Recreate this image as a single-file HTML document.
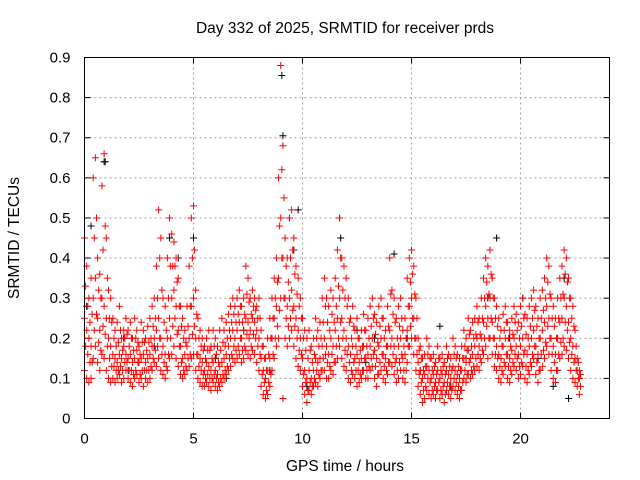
<!DOCTYPE html>
<html><head><meta charset="utf-8"><style>
body{margin:0;background:#fff;width:640px;height:480px;overflow:hidden}
svg{display:block;font-family:"Liberation Sans",sans-serif}
</style></head><body>
<svg id="chart" width="640" height="480" xmlns="http://www.w3.org/2000/svg">
<text x="345" y="33" font-size="15.5" text-anchor="middle">Day 332 of 2025, SRMTID for receiver prds</text>
<text x="345" y="471" font-size="15.5" text-anchor="middle">GPS time / hours</text>
<text transform="translate(19,238) rotate(-90)" font-size="15.5" text-anchor="middle">SRMTID / TECUs</text>
<g id="grid"></g>
<g id="ticks"></g>
<g id="marks"></g>
<rect x="84.5" y="57.5" width="525" height="361" fill="none" stroke="#000" stroke-width="1"/>
</svg>
<script>
const xTicks=[0,5,10,15,20];
const yTicks=[0,0.1,0.2,0.3,0.4,0.5,0.6,0.7,0.8,0.9];
const yTickLabels=["0","0.1","0.2","0.3","0.4","0.5","0.6","0.7","0.8","0.9"];
const sampleStartHour=0, sampleStepHour=0.1, offsetStartHour=0.05;
const seriesA=[0.45,0.38,0.30,0.35,0.60,0.65,0.40,0.36,0.58,0.66,
0.45,0.32,0.30,0.25,0.22,0.24,0.28,0.20,0.22,0.25,
0.22,0.24,0.20,0.25,0.22,0.18,0.24,0.22,0.20,0.23,
0.25,0.28,0.30,0.38,0.52,0.45,0.30,0.28,0.40,0.50,
0.46,0.44,0.40,0.35,0.28,0.25,0.22,0.28,0.38,0.50,
0.53,0.32,0.25,0.22,0.20,0.18,0.20,0.22,0.18,0.22,
0.20,0.18,0.22,0.25,0.22,0.24,0.26,0.28,0.30,0.28,
0.30,0.32,0.28,0.30,0.38,0.35,0.30,0.32,0.30,0.28,
0.30,0.22,0.18,0.15,0.20,0.25,0.30,0.35,0.40,0.60,
0.88,0.68,0.45,0.40,0.50,0.52,0.45,0.38,0.35,0.30,
0.25,0.22,0.20,0.22,0.18,0.20,0.25,0.22,0.24,0.30,
0.35,0.30,0.28,0.32,0.30,0.35,0.42,0.50,0.40,0.38,
0.35,0.30,0.25,0.28,0.22,0.25,0.20,0.22,0.26,0.22,
0.25,0.28,0.30,0.26,0.24,0.28,0.30,0.25,0.22,0.28,
0.40,0.32,0.30,0.25,0.28,0.30,0.22,0.25,0.35,0.40,
0.42,0.38,0.30,0.20,0.18,0.15,0.16,0.20,0.18,0.15,
0.16,0.14,0.18,0.15,0.16,0.14,0.18,0.16,0.15,0.20,
0.18,0.16,0.15,0.18,0.22,0.20,0.25,0.22,0.24,0.25,
0.28,0.25,0.30,0.35,0.40,0.38,0.42,0.35,0.30,0.28,
0.25,0.22,0.26,0.28,0.24,0.22,0.25,0.28,0.26,0.24,
0.28,0.30,0.26,0.25,0.28,0.30,0.32,0.28,0.25,0.30,
0.32,0.35,0.40,0.38,0.30,0.28,0.25,0.30,0.35,0.38,
0.42,0.40,0.35,0.30,0.28,0.22,0.15,0.12];
const seriesB=[0.25,0.22,0.20,0.18,0.30,0.35,0.25,0.22,0.30,0.28,
0.25,0.20,0.18,0.16,0.15,0.14,0.16,0.15,0.18,0.16,
0.15,0.16,0.14,0.15,0.17,0.14,0.15,0.16,0.14,0.15,
0.16,0.18,0.20,0.22,0.25,0.20,0.18,0.16,0.20,0.25,
0.30,0.32,0.28,0.22,0.18,0.15,0.16,0.18,0.20,0.28,
0.30,0.20,0.16,0.15,0.14,0.12,0.14,0.13,0.12,0.14,
0.12,0.11,0.13,0.14,0.15,0.16,0.18,0.20,0.22,0.20,
0.22,0.24,0.20,0.22,0.25,0.24,0.22,0.25,0.24,0.22,
0.20,0.15,0.12,0.10,0.12,0.15,0.20,0.25,0.28,0.35,
0.50,0.40,0.30,0.28,0.30,0.32,0.28,0.25,0.22,0.20,
0.15,0.12,0.10,0.12,0.10,0.12,0.15,0.14,0.15,0.18,
0.20,0.18,0.16,0.20,0.18,0.22,0.25,0.30,0.25,0.22,
0.20,0.18,0.16,0.18,0.15,0.16,0.14,0.15,0.18,0.15,
0.16,0.18,0.20,0.17,0.15,0.18,0.20,0.16,0.15,0.18,
0.22,0.20,0.18,0.15,0.18,0.20,0.15,0.16,0.22,0.28,
0.30,0.25,0.20,0.14,0.12,0.10,0.11,0.13,0.12,0.10,
0.11,0.09,0.12,0.10,0.11,0.09,0.12,0.11,0.10,0.13,
0.12,0.11,0.10,0.12,0.15,0.14,0.17,0.15,0.16,0.18,
0.20,0.18,0.20,0.24,0.28,0.25,0.30,0.24,0.20,0.18,
0.16,0.15,0.18,0.20,0.16,0.15,0.17,0.20,0.18,0.16,
0.18,0.20,0.17,0.16,0.18,0.20,0.22,0.18,0.16,0.20,
0.22,0.24,0.28,0.25,0.20,0.18,0.16,0.20,0.24,0.25,
0.30,0.28,0.24,0.20,0.18,0.15,0.12,0.10];
const seriesC=[0.12,0.10,0.09,0.10,0.15,0.18,0.14,0.12,0.16,0.15,
0.12,0.10,0.09,0.10,0.09,0.10,0.11,0.09,0.10,0.12,
0.10,0.09,0.08,0.10,0.11,0.09,0.10,0.08,0.10,0.09,
0.10,0.12,0.14,0.13,0.15,0.12,0.11,0.10,0.12,0.15,
0.16,0.18,0.15,0.13,0.11,0.10,0.11,0.12,0.13,0.15,
0.16,0.12,0.10,0.09,0.08,0.08,0.09,0.08,0.07,0.09,
0.08,0.07,0.08,0.09,0.10,0.11,0.12,0.13,0.15,0.14,
0.15,0.16,0.14,0.15,0.17,0.16,0.15,0.17,0.16,0.14,
0.12,0.08,0.06,0.05,0.06,0.08,0.12,0.15,0.18,0.20,
0.30,0.05,0.20,0.18,0.20,0.22,0.18,0.15,0.13,0.12,
0.08,0.06,0.04,0.07,0.06,0.08,0.09,0.08,0.10,0.12,
0.12,0.10,0.10,0.12,0.11,0.14,0.15,0.18,0.15,0.13,
0.12,0.10,0.09,0.11,0.10,0.08,0.09,0.10,0.12,0.10,
0.10,0.12,0.13,0.10,0.08,0.11,0.12,0.10,0.09,0.11,
0.14,0.13,0.11,0.09,0.10,0.12,0.10,0.09,0.14,0.18,
0.20,0.16,0.12,0.08,0.06,0.04,0.05,0.07,0.06,0.05,
0.06,0.05,0.07,0.05,0.06,0.04,0.07,0.06,0.05,0.08,
0.07,0.06,0.05,0.07,0.10,0.09,0.11,0.10,0.11,0.12,
0.13,0.12,0.14,0.16,0.18,0.15,0.20,0.16,0.13,0.12,
0.10,0.09,0.11,0.13,0.10,0.09,0.11,0.13,0.12,0.10,
0.11,0.13,0.10,0.09,0.11,0.13,0.15,0.11,0.09,0.12,
0.13,0.15,0.18,0.16,0.12,0.10,0.09,0.12,0.15,0.16,
0.18,0.17,0.15,0.12,0.10,0.09,0.08,0.06];
const seriesD=[0.33,0.28,0.24,0.26,0.45,0.50,0.32,0.30,0.42,0.48,
0.35,0.25,0.24,0.20,0.18,0.19,0.22,0.17,0.20,0.21,
0.18,0.20,0.17,0.20,0.19,0.16,0.19,0.19,0.17,0.19,
0.20,0.23,0.25,0.30,0.40,0.32,0.24,0.22,0.30,0.38,
0.38,0.38,0.34,0.28,0.23,0.20,0.19,0.23,0.28,0.40,
0.42,0.26,0.20,0.18,0.17,0.15,0.17,0.17,0.15,0.18,
0.16,0.14,0.17,0.19,0.18,0.20,0.22,0.24,0.26,0.24,
0.26,0.28,0.24,0.26,0.31,0.29,0.26,0.28,0.27,0.25,
0.25,0.18,0.15,0.12,0.16,0.20,0.25,0.30,0.34,0.48,
0.62,0.55,0.38,0.34,0.40,0.42,0.36,0.31,0.28,0.25,
0.20,0.17,0.15,0.17,0.14,0.16,0.20,0.18,0.20,0.24,
0.28,0.24,0.22,0.26,0.24,0.28,0.33,0.40,0.32,0.30,
0.28,0.24,0.20,0.23,0.18,0.20,0.17,0.18,0.22,0.18,
0.20,0.23,0.25,0.21,0.19,0.23,0.25,0.20,0.18,0.23,
0.31,0.26,0.24,0.20,0.23,0.25,0.18,0.20,0.28,0.34,
0.36,0.31,0.25,0.17,0.15,0.12,0.13,0.16,0.15,0.12,
0.13,0.11,0.15,0.12,0.13,0.11,0.15,0.13,0.12,0.16,
0.15,0.13,0.12,0.15,0.18,0.17,0.21,0.18,0.20,0.21,
0.24,0.21,0.25,0.30,0.34,0.31,0.36,0.30,0.25,0.23,
0.20,0.18,0.22,0.24,0.20,0.18,0.21,0.24,0.22,0.20,
0.23,0.25,0.21,0.20,0.23,0.25,0.27,0.23,0.20,0.25,
0.27,0.30,0.34,0.31,0.25,0.23,0.20,0.25,0.30,0.31,
0.36,0.34,0.30,0.25,0.23,0.18,0.14,0.11];
const seriesE=[0.18,0.16,0.14,0.14,0.22,0.26,0.19,0.17,0.23,0.21,
0.18,0.15,0.13,0.13,0.12,0.12,0.13,0.12,0.14,0.14,
0.12,0.12,0.11,0.12,0.14,0.11,0.12,0.12,0.12,0.12,
0.13,0.15,0.17,0.18,0.20,0.16,0.14,0.13,0.16,0.20,
0.23,0.25,0.21,0.18,0.14,0.12,0.13,0.15,0.16,0.21,
0.23,0.16,0.13,0.12,0.11,0.10,0.11,0.10,0.10,0.11,
0.10,0.09,0.10,0.11,0.12,0.13,0.15,0.16,0.18,0.17,
0.18,0.20,0.17,0.18,0.21,0.20,0.18,0.21,0.20,0.18,
0.16,0.11,0.09,0.07,0.09,0.11,0.16,0.20,0.23,0.27,
0.40,0.30,0.25,0.23,0.25,0.27,0.23,0.20,0.17,0.16,
0.11,0.09,0.07,0.09,0.08,0.10,0.12,0.11,0.12,0.15,
0.16,0.14,0.13,0.16,0.14,0.18,0.20,0.24,0.20,0.17,
0.16,0.14,0.12,0.14,0.12,0.12,0.11,0.12,0.15,0.12,
0.13,0.15,0.16,0.13,0.11,0.14,0.16,0.13,0.12,0.14,
0.18,0.16,0.14,0.12,0.14,0.16,0.12,0.12,0.18,0.23,
0.25,0.20,0.16,0.11,0.09,0.07,0.08,0.10,0.09,0.07,
0.08,0.07,0.09,0.07,0.08,0.06,0.09,0.08,0.07,0.10,
0.09,0.08,0.07,0.09,0.12,0.11,0.14,0.12,0.13,0.15,
0.16,0.15,0.17,0.20,0.23,0.20,0.25,0.20,0.16,0.15,
0.13,0.12,0.14,0.16,0.13,0.12,0.14,0.16,0.15,0.13,
0.14,0.16,0.13,0.12,0.14,0.16,0.18,0.14,0.12,0.16,
0.17,0.19,0.23,0.20,0.16,0.14,0.12,0.16,0.19,0.20,
0.24,0.22,0.19,0.16,0.14,0.12,0.10,0.08];
const blackHours=[0.1,0.3,0.9,0.95,1.8,2.5,3.2,3.9,4.3,5.0,6.0,7.3,8.5,9.05,9.1,9.4,9.6,9.8,10.2,11.7,11.75,12.5,13.3,14.2,14.8,15.4,16.3,16.8,17.5,18.5,18.9,19.5,20.1,20.8,21.5,22.2,22.0,6.5,2.0,12.9];
const blackValues=[0.28,0.48,0.64,0.64,0.2,0.14,0.18,0.45,0.4,0.45,0.15,0.22,0.12,0.855,0.705,0.5,0.42,0.52,0.08,0.5,0.45,0.22,0.2,0.41,0.2,0.12,0.23,0.08,0.15,0.3,0.45,0.2,0.3,0.15,0.08,0.05,0.35,0.1,0.12,0.14];

const L=84.5,R=609.5,T=57.5,B=418.5,XMAX=24.08,YMAX=0.9;
const xs=h=>L+(h/XMAX)*(R-L);
const ys=v=>B-(v/YMAX)*(B-T);
const NS="http://www.w3.org/2000/svg";
const grid=document.getElementById('grid'),ticks=document.getElementById('ticks'),marks=document.getElementById('marks');
function mk(tag,attrs,parent){const e=document.createElementNS(NS,tag);for(const k in attrs)e.setAttribute(k,attrs[k]);parent.appendChild(e);return e;}
xTicks.forEach(t=>{const x=xs(t);
 if(t>0){const g=mk('line',{x1:x,x2:x,y1:T,y2:B,stroke:'#a0a0a0','stroke-dasharray':'2,3'},grid);
 
 }
 mk('line',{x1:x,x2:x,y1:B,y2:B-6,stroke:'#000'},ticks);
 mk('line',{x1:x,x2:x,y1:T,y2:T+6,stroke:'#000'},ticks);
 const tx=mk('text',{x:x,y:B+25,'font-size':15,'text-anchor':'middle'},ticks);tx.textContent=t;
 
 });
yTicks.forEach((t,i)=>{const y=ys(t);
 if(t>0&&t<YMAX){const g=mk('line',{x1:L,x2:R,y1:y,y2:y,stroke:'#a0a0a0','stroke-dasharray':'2,3'},grid);
 
 }
 mk('line',{x1:L,x2:L+6,y1:y,y2:y,stroke:'#000'},ticks);
 mk('line',{x1:R,x2:R-6,y1:y,y2:y,stroke:'#000'},ticks);
 const tx=mk('text',{x:L-14,y:y+5,'font-size':15,'text-anchor':'end'},ticks);tx.textContent=yTickLabels[i];
 
 });
function plus(h,v,color,name){const x=xs(h),y=ys(v);
 const p=mk('path',{d:`M${x-3.5},${y}h7M${x},${y-3.5}v7`,stroke:color,'stroke-width':1,fill:'none'},marks);
 
 }
blackHours.forEach((h,i)=>plus(h,blackValues[i],'#000','black-point'));
[seriesA,seriesB,seriesC].forEach(s=>s.forEach((v,i)=>{plus(sampleStartHour+i*sampleStepHour,v,'#ff0000','red-point');}));
[seriesD,seriesE].forEach(s=>s.forEach((v,i)=>{plus(offsetStartHour+i*sampleStepHour,v,'#ff0000','red-point');}));
</script>
</body></html>
